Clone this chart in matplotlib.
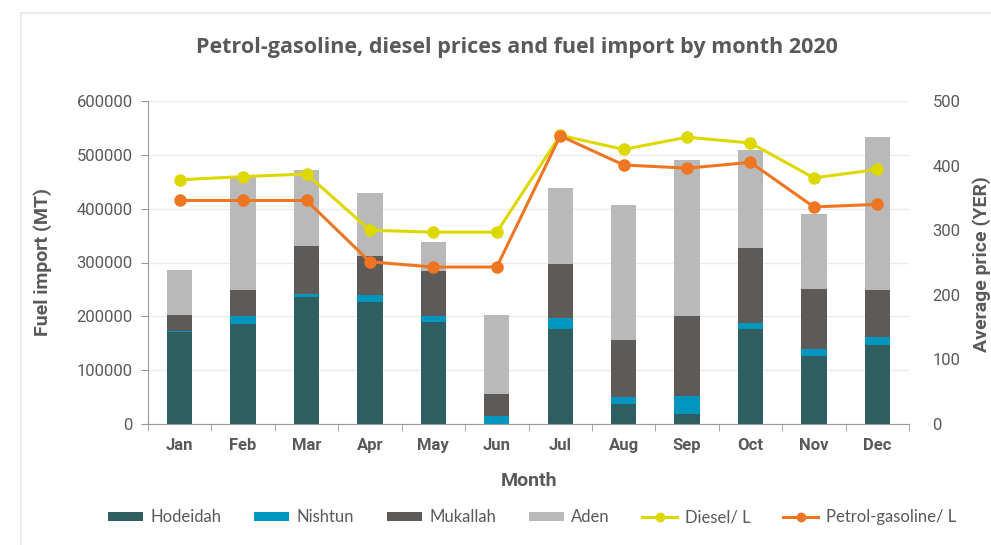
import matplotlib.pyplot as plt
import matplotlib.patches as mpatches
import numpy as np

# data
months = ['Jan', 'Feb', 'Mar', 'Apr', 'May', 'Jun', 'Jul', 'Aug', 'Sep', 'Oct', 'Nov', 'Dec']
hodeidah = [170000, 186000, 235000, 227000, 189000, 0, 177000, 38000, 19000, 177000, 126000, 147000]
nishtun = [3000, 14000, 6000, 12500, 11500, 14500, 20000, 12500, 32500, 10500, 13000, 14000]
mukallah = [29500, 48500, 89000, 72000, 83500, 42000, 99500, 105000, 148500, 140000, 111000, 88000]
aden = [83000, 211000, 142000, 117000, 55000, 146000, 142000, 252000, 290000, 181500, 140000, 285000]
diesel = [378, 383, 387, 300, 297, 297, 447, 425, 444, 435, 381, 394]
petrol = [346, 346, 346, 251, 243, 243, 446, 401, 396, 405, 336, 340]

c_hod = '#2E5E5F'
c_nis = '#0096BF'
c_muk = '#5E5A58'
c_aden = '#BAB9BA'
c_dsl = '#DDD800'
c_pet = '#EE7623'
txt = '#595959'

plt.rcParams['font.family'] = ['Roboto', 'DejaVu Sans']

fig = plt.figure(figsize=(9.91, 5.45), dpi=100)
# light frame around the chart area
fig.patches.append(mpatches.Rectangle((21 / 991, -0.1), 1.1, (545 - 13) / 545 + 0.1,
                                      transform=fig.transFigure, fill=False,
                                      edgecolor='#E6E6E6', linewidth=1.2))

ax = fig.add_axes([148 / 991, 121 / 545, 761 / 991, 323 / 545])
x = np.arange(len(months))
w = 0.4
b1 = np.array(hodeidah)
b2 = b1 + np.array(nishtun)
b3 = b2 + np.array(mukallah)
ax.bar(x, hodeidah, w, color=c_hod, label='Hodeidah', zorder=2)
ax.bar(x, nishtun, w, bottom=b1, color=c_nis, label='Nishtun', zorder=2)
ax.bar(x, mukallah, w, bottom=b2, color=c_muk, label='Mukallah', zorder=2)
ax.bar(x, aden, w, bottom=b3, color=c_aden, label='Aden', zorder=2)

ax.set_xlim(-0.5, 11.5)
ax.set_ylim(0, 600000)
ax.set_yticks(np.arange(0, 600001, 100000))
ax.grid(axis='y', color='#EBEBEB', linewidth=1, zorder=0)
ax.set_axisbelow(True)
ax.set_xticks(x)
ax.set_xticklabels(months, fontweight='bold', fontsize=12, color=txt)
ax.set_xticks(np.arange(-0.5, 12, 1), minor=True)
ax.tick_params(axis='x', which='major', length=0, pad=10)
ax.tick_params(axis='x', which='minor', length=5, color='#999999')
ax.tick_params(axis='y', labelsize=12, labelcolor=txt, length=5, color='#999999', pad=6)
for s in ['top', 'right']:
    ax.spines[s].set_visible(False)
for s in ['left', 'bottom']:
    ax.spines[s].set_color('#999999')

ax.set_xlabel('Month', fontsize=14, fontweight='bold', color=txt, labelpad=14)
fig.text(43 / 991, 0.52, 'Fuel import (MT)', rotation=90, ha='center', va='center',
         fontsize=14, fontweight='bold', color=txt)

ax2 = ax.twinx()
ax2.plot(x, diesel, color=c_dsl, marker='o', markersize=8, linewidth=2.2, label='Diesel/ L', zorder=3)
ax2.plot(x, petrol, color=c_pet, marker='o', markersize=8, linewidth=2.2, label='Petrol-gasoline/ L', zorder=3)
ax2.set_ylim(0, 500)
ax2.set_yticks(np.arange(0, 501, 100))
ax2.tick_params(axis='y', labelsize=12, labelcolor=txt, length=0, pad=17)
for s in ax2.spines.values():
    s.set_visible(False)
fig.text(982 / 991, 0.515, 'Average price (YER)', rotation=90, ha='center', va='center',
         fontsize=14, fontweight='bold', color=txt)

fig.text(0.522, 0.913, 'Petrol-gasoline, diesel prices and fuel import by month 2020',
         ha='center', va='center', fontsize=15.5, fontweight='bold', color=txt,
         family=['Open Sans', 'DejaVu Sans'])

h1, l1 = ax.get_legend_handles_labels()
h2, l2 = ax2.get_legend_handles_labels()
leg = fig.legend(h1 + h2, l1 + l2, loc='center', bbox_to_anchor=(0.537, 0.051), ncol=6,
                 frameon=False, handlelength=2.1, handleheight=0.5, markerscale=0.75,
                 columnspacing=1.95, handletextpad=0.45, labelcolor=txt,
                 prop={'family': ['Lato', 'DejaVu Sans'], 'size': 12})

fig.savefig('out.png', dpi=100)
